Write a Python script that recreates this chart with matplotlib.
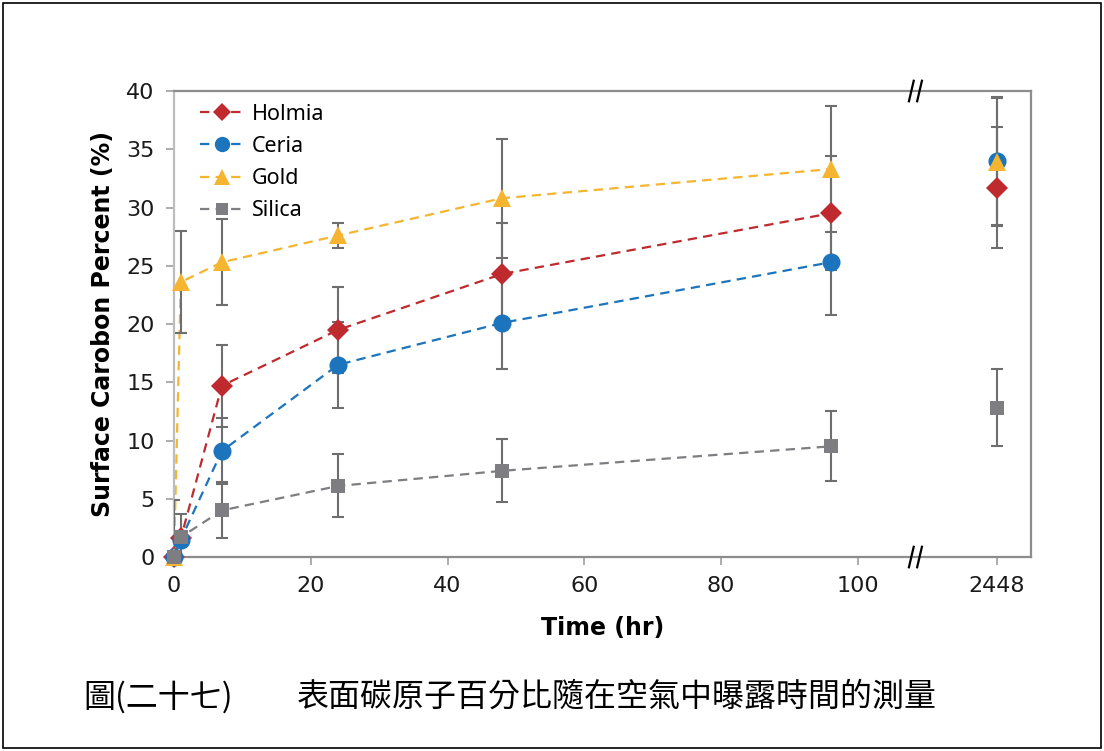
import matplotlib
matplotlib.use("Agg")
import matplotlib.pyplot as plt
import numpy as np
from matplotlib.patches import Rectangle

# ---- data ----
times = [0, 1, 7, 24, 48, 96, 2448]
holmia = [0, 1.6, 14.7, 19.5, 24.3, 29.5, 31.7]
holmia_err = [0, 0.5, 3.5, 3.7, 4.4, 4.9, 5.2]
ceria = [0, 1.5, 9.1, 16.5, 20.1, 25.3, 34.0]
ceria_err = [0, 0.5, 2.8, 3.7, 4.0, 4.5, 5.5]
gold = [0, 23.6, 25.3, 27.6, 30.8, 33.3, 33.9]
gold_err = [4.9, 4.4, 3.7, 1.1, 5.1, 5.4, 5.5]
silica = [0, 1.7, 4.0, 6.1, 7.4, 9.5, 12.8]
silica_err = [0, 2.0, 2.4, 2.7, 2.7, 3.0, 3.3]
series_names = ["Holmia", "Ceria", "Gold", "Silica"]
xtick_values = [0, 20, 40, 60, 80, 100, 2448]
yticks = [0, 5, 10, 15, 20, 25, 30, 35, 40]
caption_num = "圖(二十七)"
caption_text = "表面碳原子百分比隨在空氣中曝露時間的測量"

# broken axis mapping: hours <=100 are linear, later points placed after the break
BREAK_POS = 109.0
LATE_POS = 120.3
XMAX = 125.3


def xpos(t):
    t = np.asarray(t, dtype=float)
    return np.where(t <= 100, t, LATE_POS)


fig = plt.figure(figsize=(11.04, 7.51), dpi=100)
fig.patches.append(Rectangle((0.003, 0.004), 0.994, 0.992, transform=fig.transFigure,
                             fill=False, edgecolor="black", linewidth=1.2))
ax = fig.add_axes([0.1576, 0.2583, 0.7763, 0.6205])

styles = [
    dict(color="#BE2A2E", marker="D", ms=11),
    dict(color="#1C74BC", marker="o", ms=13),
    dict(color="#F5B530", marker="^", ms=13.5),
    dict(color="#7E7E82", marker="s", ms=10.5),
]
datasets = [(holmia, holmia_err), (ceria, ceria_err), (gold, gold_err), (silica, silica_err)]
err_color = "#6E6E6E"
dash = (0, (4.2, 2.8))

handles = []
for name, (vals, errs), st in zip(series_names, datasets, styles):
    xs = xpos(times)
    vals = np.asarray(vals)
    errs = np.asarray(errs)
    early = np.asarray(times) <= 100
    ax.plot(xs[early], vals[early], linestyle=dash, color=st["color"],
            linewidth=1.6, zorder=2)
    ax.errorbar(xs, vals, yerr=errs, fmt="none", ecolor=err_color, elinewidth=1.5,
                capsize=4.5, capthick=1.5, zorder=3, clip_on=True)
    ax.plot(xs, vals, linestyle="none", marker=st["marker"], ms=st["ms"],
            color=st["color"], markeredgewidth=0, zorder=4, clip_on=False)
    h, = ax.plot([], [], linestyle=dash, color=st["color"], linewidth=1.6,
                 marker=st["marker"], ms=st["ms"] * 0.85, markeredgewidth=0)
    handles.append(h)

ax.set_xlim(0, XMAX)
ax.set_ylim(0, 40)
ax.set_xticks(xpos(xtick_values))
ax.set_xticklabels([str(v) for v in xtick_values])
ax.set_yticks(yticks)
ax.set_yticklabels([str(v) for v in yticks])

spine_color = "#8C8C8C"
for s in ax.spines.values():
    s.set_color(spine_color)
    s.set_linewidth(1.6)
ax.spines["left"].set_color("#BDBDBD")
ax.tick_params(axis="both", direction="out", length=6, width=1.2, color="#A0A0A0",
               labelsize=16, labelcolor="#1A1A1A", pad=8)
for lab in ax.get_xticklabels() + ax.get_yticklabels():
    lab.set_family("DejaVu Sans")

ax.set_xlabel("Time (hr)", fontsize=17, fontweight="bold", family="DejaVu Sans",
              labelpad=14)
ax.set_ylabel("Surface Carobon Percent (%)", fontsize=17, fontweight="bold",
              family="DejaVu Sans", labelpad=8)

# break marks "//" on top and bottom spines
trans = ax.get_xaxis_transform()
for yb in (0.0, 1.0):
    for dx in (-1.2, 0.0):
        x0 = BREAK_POS + dx
        ax.plot([x0 - 0.35, x0 + 0.35], [yb - 0.022, yb + 0.022], transform=trans,
                color="black", linewidth=1.6, clip_on=False, zorder=6)

leg = ax.legend(handles, series_names, loc="upper left", frameon=False,
                prop={"family": "Noto Sans", "size": 15.5}, handlelength=2.0,
                labelspacing=0.52, borderaxespad=0.3, handletextpad=0.4,
                bbox_to_anchor=(0.013, 1.005))

fig.text(83 / 1104, 1 - 697 / 751, caption_num, fontsize=23, va="center", ha="left",
         family=["Noto Sans CJK TC", "DejaVu Sans"], color="black")
fig.text(297 / 1104, 1 - 697 / 751, caption_text, fontsize=23, va="center", ha="left",
         family=["Noto Sans CJK TC", "DejaVu Sans"], color="black")

fig.savefig("out.png", dpi=100)
